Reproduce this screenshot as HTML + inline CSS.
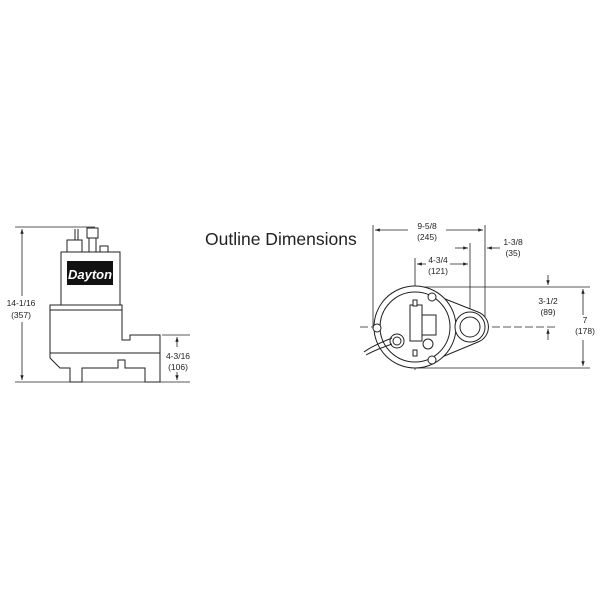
<!DOCTYPE html>
<html><head><style>
body{margin:0;background:#fff;width:600px;height:600px;overflow:hidden}
svg text{font-family:"Liberation Sans",sans-serif;fill:#222}
</style></head><body>
<svg width="600" height="600" viewBox="0 0 600 600" xmlns="http://www.w3.org/2000/svg">
<defs><marker id="a" viewBox="0 0 10 10" refX="10" refY="5" markerWidth="6" markerHeight="6" orient="auto-start-reverse"><path d="M0,1.5 L10,5 L0,8.5z" fill="#222"/></marker></defs>
<g stroke="#222" fill="none" stroke-width="0.8">
<line x1="15" y1="227" x2="95" y2="227"/>
<line x1="15" y1="382" x2="190" y2="382"/>
<line x1="22" y1="229" x2="22" y2="296" marker-start="url(#a)"/>
<line x1="22" y1="322" x2="22" y2="380" marker-end="url(#a)"/>
<line x1="162" y1="335" x2="190" y2="335"/>
<line x1="177" y1="337" x2="177" y2="347" marker-start="url(#a)"/>
<line x1="177" y1="372" x2="177" y2="380" marker-end="url(#a)"/>
</g>
<g stroke="#222" stroke-width="1" fill="#fff">
<line x1="75" y1="229" x2="75" y2="242"/><line x1="78" y1="229" x2="78" y2="242"/>
<rect x="67" y="240" width="15" height="12"/>
<rect x="87" y="228" width="11" height="10"/>
<rect x="89" y="238" width="7" height="14"/>
<rect x="100" y="246" width="8" height="6"/>
<rect x="61" y="252" width="59" height="53"/>
<path d="M50,305 H122 V340 H130 V335 H160 V382 H145 V368 H125 V360 H118 V368 H82 V382 H70 V368 L60,368 L50,358 Z"/>
<line x1="50" y1="310" x2="122" y2="310"/>
<line x1="50" y1="353" x2="160" y2="353"/>
</g>
<rect x="67" y="261" width="46" height="24" fill="#111"/>
<text x="90" y="279" font-size="13" font-weight="bold" font-style="italic" text-anchor="middle" style="fill:#fff">Dayton</text>
<g font-size="8.5" text-anchor="middle">
<text x="21" y="306">14-1/16</text><text x="21" y="318">(357)</text>
<text x="178" y="359">4-3/16</text><text x="178" y="370">(106)</text>
</g>
<text x="205" y="245" font-size="17.5">Outline Dimensions</text>
<g stroke="#222" fill="none" stroke-width="0.8">
<line x1="373" y1="225" x2="373" y2="327"/>
<line x1="485" y1="225" x2="485" y2="327"/>
<line x1="470" y1="243" x2="470" y2="327"/>
<line x1="415" y1="258" x2="415" y2="370"/>
<line x1="375" y1="230" x2="408" y2="230" marker-start="url(#a)"/>
<line x1="446" y1="230" x2="483" y2="230" marker-end="url(#a)"/>
<line x1="455" y1="248" x2="468" y2="248" marker-end="url(#a)"/>
<line x1="500" y1="248" x2="487" y2="248" marker-end="url(#a)"/>
<line x1="417" y1="264" x2="426" y2="264" marker-start="url(#a)"/>
<line x1="450" y1="264" x2="468" y2="264" marker-end="url(#a)"/>
<line x1="415" y1="287" x2="590" y2="287"/>
<line x1="415" y1="368" x2="590" y2="368"/>
<line x1="360" y1="327" x2="558" y2="327" stroke-dasharray="8,3"/>
<line x1="548" y1="275" x2="548" y2="285" marker-end="url(#a)"/>
<line x1="548" y1="340" x2="548" y2="329" marker-end="url(#a)"/>
<line x1="583" y1="289" x2="583" y2="315" marker-start="url(#a)"/>
<line x1="583" y1="340" x2="583" y2="366" marker-end="url(#a)"/>
</g>
<g stroke="#222" stroke-width="1" fill="#fff">
<path d="M430,293 L478,312 A16,16 0 0 1 478,342 L430,362 Z"/>
<circle cx="415" cy="327" r="41"/>
<circle cx="415" cy="327" r="35"/>
<circle cx="470" cy="327" r="15"/>
<circle cx="470" cy="327" r="10"/>
<rect x="410" y="305" width="12" height="36"/>
<rect x="422" y="315" width="14" height="20"/>
<circle cx="377" cy="328" r="4"/>
<circle cx="432" cy="297" r="4"/>
<circle cx="432" cy="360" r="4"/>
<circle cx="428" cy="344" r="5"/>
<circle cx="397" cy="341" r="7"/><circle cx="397" cy="341" r="4"/>
<rect x="413" y="300" width="4" height="6"/><rect x="413" y="350" width="4" height="6"/>
</g>
<path d="M392,344 Q375,350 366,355" stroke="#222" fill="none"/>
<path d="M392,338 Q372,346 364,352" stroke="#222" fill="none"/>
<g font-size="8.5" text-anchor="middle">
<text x="427" y="229">9-5/8</text><text x="427" y="240">(245)</text>
<text x="513" y="245">1-3/8</text><text x="513" y="256">(35)</text>
<text x="438" y="263">4-3/4</text><text x="438" y="274">(121)</text>
<text x="548" y="304">3-1/2</text><text x="548" y="315">(89)</text>
<text x="585" y="323">7</text><text x="585" y="334">(178)</text>
</g>
</svg>
</body></html>
